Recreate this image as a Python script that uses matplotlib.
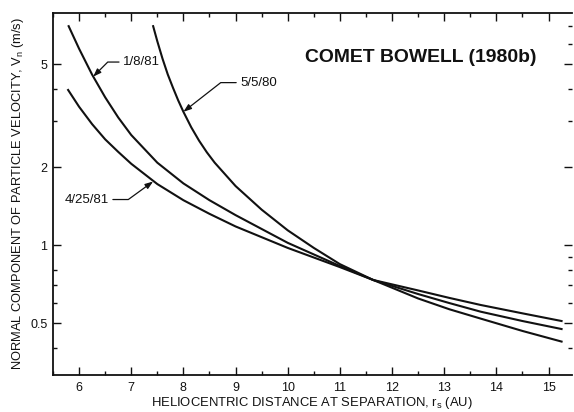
import matplotlib
matplotlib.use('Agg')
import matplotlib.pyplot as plt
from matplotlib.ticker import FixedLocator, NullFormatter, FixedFormatter

# ---- data ----
x_may80 = [7.42, 7.5, 7.6, 7.7, 7.8, 7.9, 8.0, 8.15, 8.3, 8.45, 8.6, 9.0, 9.5, 10.0, 10.5, 11.0, 11.64, 12.5, 13.1, 13.7, 14.5, 15.25]
v_may80 = [7.0, 6.12, 5.24, 4.56, 4.05, 3.62, 3.27, 2.85, 2.53, 2.28, 2.08, 1.69, 1.37, 1.14, 0.975, 0.844, 0.733, 0.622, 0.565, 0.52, 0.466, 0.424]

x_jan81 = [5.80, 6.0, 6.25, 6.5, 6.75, 7.0, 7.5, 8.0, 8.5, 9.0, 10.0, 11.0, 11.64, 12.5, 13.1, 13.7, 14.5, 15.25]
v_jan81 = [7.0, 5.73, 4.55, 3.72, 3.11, 2.66, 2.08, 1.73, 1.49, 1.305, 1.02, 0.83, 0.733, 0.647, 0.597, 0.553, 0.509, 0.474]

x_apr81 = [5.79, 6.0, 6.25, 6.5, 6.75, 7.0, 7.5, 8.0, 8.5, 9.0, 10.0, 11.0, 11.64, 12.5, 13.1, 13.7, 14.5, 15.25]
v_apr81 = [3.97, 3.42, 2.93, 2.56, 2.29, 2.06, 1.72, 1.49, 1.32, 1.18, 0.975, 0.822, 0.733, 0.668, 0.625, 0.587, 0.545, 0.509]

series_labels = ["5/5/80", "1/8/81", "4/25/81"]
x_ticks = [6, 7, 8, 9, 10, 11, 12, 13, 14, 15]
y_ticks = [0.5, 1, 2, 5]
y_ticklabels = ["0.5", "1", "2", "5"]

title = "COMET BOWELL (1980b)"
xlabel = "HELIOCENTRIC DISTANCE AT SEPARATION, r$_\\mathregular{s}$ (AU)"
ylabel = "NORMAL COMPONENT OF PARTICLE VELOCITY, V$_\\mathregular{n}$ (m/s)"

plt.rcParams['font.family'] = ['Liberation Sans', 'DejaVu Sans']

fig = plt.figure(figsize=(5.74, 4.12), dpi=100)
ax = fig.add_axes([53/574, 1 - 375/412, (572-53)/574, (375-13)/412])
ax.set_yscale('log')
ax.set_xlim(5.5, 15.45)
ax.set_ylim(0.315, 7.87)

lc = '#111111'
lw = 1.5
ax.plot(x_may80, v_may80, color=lc, lw=lw, solid_joinstyle='round')
ax.plot(x_jan81, v_jan81, color=lc, lw=lw, solid_joinstyle='round')
ax.plot(x_apr81, v_apr81, color=lc, lw=lw, solid_joinstyle='round')

# ticks
ax.xaxis.set_major_locator(FixedLocator(x_ticks))
ax.xaxis.set_minor_locator(FixedLocator([t + 0.5 for t in range(5, 16)]))
ax.yaxis.set_major_locator(FixedLocator(y_ticks))
ax.yaxis.set_major_formatter(FixedFormatter(y_ticklabels))
ax.yaxis.set_minor_locator(FixedLocator([0.4, 0.6, 0.7, 0.8, 3, 4]))
ax.yaxis.set_minor_formatter(NullFormatter())
ax.tick_params(axis='both', which='both', direction='in', top=True, right=False,
               color=lc, labelsize=9, labelcolor=lc)
ax.tick_params(axis='both', which='major', length=6, width=1.0)
ax.tick_params(axis='both', which='minor', length=3, width=1.0)
ax.tick_params(axis='x', pad=5)
ax.tick_params(axis='y', pad=4)

ax2 = ax.twinx()
ax2.set_yscale('log')
ax2.set_ylim(ax.get_ylim())
ax2.yaxis.set_major_locator(FixedLocator(y_ticks))
ax2.yaxis.set_minor_locator(FixedLocator([0.4, 0.6, 0.7, 0.8, 0.9, 3, 4, 6, 7]))
ax2.yaxis.set_major_formatter(NullFormatter())
ax2.yaxis.set_minor_formatter(NullFormatter())
ax2.tick_params(axis='y', which='both', direction='in', color=lc)
ax2.tick_params(axis='y', which='major', length=6, width=1.0)
ax2.tick_params(axis='y', which='minor', length=3, width=1.0)
for s in ax2.spines.values():
    s.set_visible(False)

for side in ['left', 'bottom', 'top']:
    ax.spines[side].set_linewidth(1.3)
    ax.spines[side].set_color(lc)
ax.spines['right'].set_visible(False)

# annotations with leaders
ap = dict(arrowstyle='-|>,head_length=0.5,head_width=0.18', color=lc, lw=0.9,
          shrinkA=1, shrinkB=0)
ax.annotate(series_labels[1], xy=(6.27, 4.47), xytext=(21.6, 10.5), textcoords='offset points',
            ha='left', va='center', fontsize=9.5, color=lc,
            arrowprops=dict(ap, connectionstyle='angle,angleA=0,angleB=45,rad=0'))
ax.annotate(series_labels[0], xy=(8.0, 3.27), xytext=(41, 21), textcoords='offset points',
            ha='left', va='center', fontsize=9.5, color=lc,
            arrowprops=dict(ap, connectionstyle='angle,angleA=0,angleB=38,rad=0'))
ax.annotate(series_labels[2], xy=(7.42, 1.76), xytext=(-32, -13), textcoords='offset points',
            ha='right', va='center', fontsize=9.5, color=lc,
            arrowprops=dict(ap, connectionstyle='angle,angleA=0,angleB=36,rad=0'))

# title & labels, fitted to reference extents
t_title = fig.text(305/574, 1 - 58/412, title, ha='left', va='center',
                   fontsize=14, fontweight='bold', color=lc)
t_x = fig.text(312/574, 1 - 403/412, xlabel, ha='center', va='center', fontsize=9, color=lc)
t_y = fig.text(18/574, 1 - 194/412, ylabel, ha='center', va='center', rotation=90,
               fontsize=9, color=lc)

fig.canvas.draw()
r = fig.canvas.get_renderer()
for t, target, dim in [(t_title, 232, 'w'), (t_x, 321, 'w'), (t_y, 352, 'h')]:
    bb = t.get_window_extent(r)
    cur = bb.width if dim == 'w' else bb.height
    t.set_fontsize(t.get_fontsize() * target / cur)

fig.savefig('out.png', dpi=100, facecolor='white')
